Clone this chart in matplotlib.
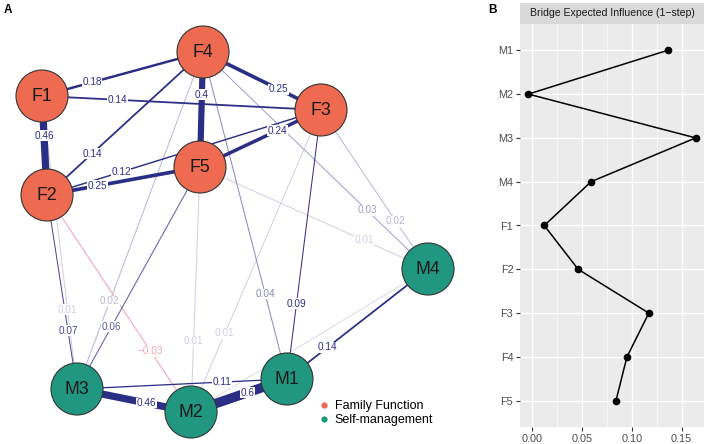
import matplotlib
matplotlib.use('Agg')
import matplotlib.pyplot as plt
from matplotlib.patches import Circle
from matplotlib.lines import Line2D
import numpy as np

plt.rcParams['font.family'] = ['Liberation Sans', 'DejaVu Sans']

# network nodes (layout in pixel space of the left panel)
nodes = ['F1', 'F2', 'F3', 'F4', 'F5', 'M1', 'M2', 'M3', 'M4']
groups = ['Family Function'] * 5 + ['Self-management'] * 4
node_x = [42, 47, 321, 203, 200, 287, 191, 77, 428]
node_y = [96, 195, 110, 52, 167, 379, 412, 389, 269]

# edges: from, to, weight
edge_from = ['F1', 'F1', 'F1', 'F4', 'F4', 'F4', 'F5', 'F2', 'F2',
             'M3', 'M2', 'M3', 'M1', 'M2',
             'F1', 'F2', 'F4', 'F5', 'F2', 'F5', 'F3', 'F4', 'F3', 'F4', 'F3', 'F5']
edge_to = ['F2', 'F4', 'F3', 'F3', 'F5', 'F2', 'F3', 'F3', 'F5',
           'M2', 'M1', 'M1', 'M4', 'M4',
           'M3', 'M3', 'M3', 'M3', 'M2', 'M2', 'M2', 'M1', 'M1', 'M4', 'M4', 'M4']
edge_w = [0.46, 0.18, 0.14, 0.25, 0.40, 0.14, 0.24, 0.12, 0.25,
          0.46, 0.60, 0.11, 0.14, 0.005,
          0.01, 0.07, 0.02, 0.06, -0.03, 0.01, 0.01, 0.04, 0.09, 0.03, 0.02, 0.01]
label_frac = [0.40, 0.31, 0.27, 0.64, 0.37, 0.71, 0.64, 0.27, 0.33,
              0.61, 0.59, 0.69, 0.29, None,
              0.73, 0.70, 0.74, 0.72, 0.72, 0.71, 0.74, 0.74, 0.72, 0.73, 0.70, 0.72]

# bridge expected influence (right panel)
bei_nodes = ['M1', 'M2', 'M3', 'M4', 'F1', 'F2', 'F3', 'F4', 'F5']
bei_vals = [0.136, -0.004, 0.164, 0.059, 0.012, 0.046, 0.117, 0.095, 0.084]

group_col = {'Family Function': '#EE6A50', 'Self-management': '#22977F'}
pos_col = np.array([0.17, 0.18, 0.52])
neg_col = np.array([0.82, 0.22, 0.28])

fig = plt.figure(figsize=(7.08, 4.44), dpi=100)

# ---------- A: network ----------
ax = fig.add_axes([0, 0, 1, 1])
ax.set_xlim(0, 708)
ax.set_ylim(444, 0)
ax.axis('off')

idx = {n: i for i, n in enumerate(nodes)}


def edge_color(w):
    a = min(1.0, 0.12 + abs(w) * 11)
    base = pos_col if w > 0 else neg_col
    return tuple(1 - a + a * base)


order = np.argsort(np.abs(edge_w))
for k in order:
    a, b, w = idx[edge_from[k]], idx[edge_to[k]], edge_w[k]
    lw = max(1.0, 17 * abs(w) - 0.6) * 0.72
    ax.plot([node_x[a], node_x[b]], [node_y[a], node_y[b]],
            color=edge_color(w), lw=lw, solid_capstyle='butt', zorder=1)

for k in range(len(edge_w)):
    if label_frac[k] is None:
        continue
    a, b, w = idx[edge_from[k]], idx[edge_to[k]], edge_w[k]
    f = label_frac[k]
    lx = node_x[a] + f * (node_x[b] - node_x[a])
    ly = node_y[a] + f * (node_y[b] - node_y[a])
    txt = f'{abs(w):.2f}'.rstrip('0')
    if w < 0:
        txt = '\u2212' + txt
    ax.text(lx, ly, txt, fontsize=7.2, color=edge_color(w), ha='center', va='center',
            zorder=2, bbox=dict(facecolor='white', edgecolor='none', pad=0.3))

for i, n in enumerate(nodes):
    ax.add_patch(Circle((node_x[i], node_y[i]), 26, facecolor=group_col[groups[i]],
                        edgecolor='#333333', lw=0.8, zorder=3))
    ax.text(node_x[i], node_y[i] + 0.5, n, fontsize=12.8, ha='center', va='center',
            color='#1a1a1a', zorder=4)

handles = [Line2D([], [], marker='o', ls='none', markersize=4.5,
                  markerfacecolor=group_col[g], markeredgecolor='none', label=g)
           for g in ['Family Function', 'Self-management']]
ax.legend(handles=handles, loc='upper left', bbox_to_anchor=(316 / 708, 1 - 400 / 444),
          frameon=False, fontsize=9, handletextpad=0.3, labelspacing=0.15,
          handlelength=1.2, borderaxespad=0, borderpad=0)

fig.text(4 / 708, 1 - 4 / 444, 'A', fontsize=8.5, fontweight='bold', va='top')
fig.text(488 / 708, 1 - 4 / 444, 'B', fontsize=8.5, fontweight='bold', va='top')

# ---------- B: bridge expected influence ----------
bx = fig.add_axes([520 / 708, 17 / 444, 184 / 708, 403 / 444])
bx.set_facecolor('#EBEBEB')
ypos = np.arange(len(bei_nodes))
bx.plot(bei_vals, ypos, color='black', lw=1.1, marker='o', markersize=4.5, zorder=3)
bx.set_xlim(-0.0124, 0.1724)
bx.set_ylim(len(bei_nodes) - 0.4, -0.6)
bx.set_yticks(ypos)
bx.set_yticklabels(bei_nodes)
bx.set_xticks([0, 0.05, 0.10, 0.15])
bx.set_xticklabels(['0.00', '0.05', '0.10', '0.15'])
bx.set_xticks([0.025, 0.075, 0.125], minor=True)
bx.grid(which='major', color='white', lw=1.0, zorder=0)
bx.grid(which='minor', axis='x', color='white', lw=0.5, zorder=0)
bx.set_axisbelow(True)
for s in bx.spines.values():
    s.set_visible(False)
bx.tick_params(which='major', length=2.8, width=0.8, color='#333333', labelsize=7.8,
               labelcolor='#4D4D4D', pad=2)
bx.tick_params(which='minor', length=0)

sx = fig.add_axes([520 / 708, 1 - 24 / 444, 184 / 708, 21 / 444])
sx.set_facecolor('#D9D9D9')
sx.set_xticks([])
sx.set_yticks([])
for s in sx.spines.values():
    s.set_visible(False)
sx.text(0.5, 0.5, 'Bridge Expected Influence (1\u2212step)', fontsize=7.6, color='#1A1A1A',
        ha='center', va='center', transform=sx.transAxes)

fig.savefig('out.png', dpi=100)
